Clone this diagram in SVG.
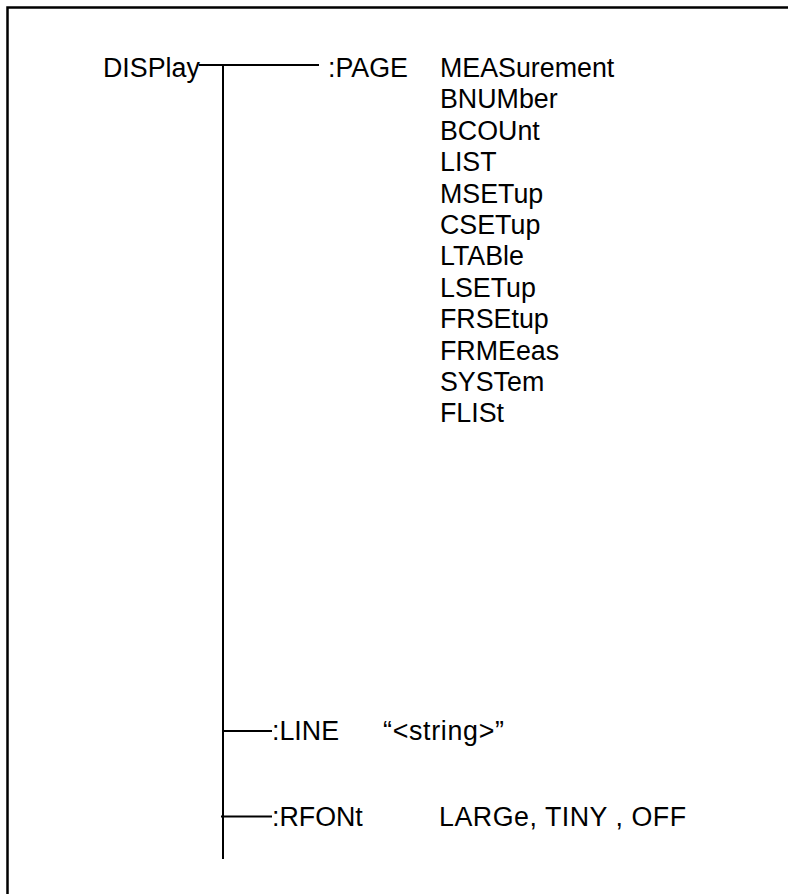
<svg xmlns="http://www.w3.org/2000/svg" width="788" height="894" viewBox="0 0 788 894">
<style>
text{font-family:"Liberation Sans",Arial,sans-serif;font-size:26.8px;fill:#000}
.ln{stroke:#000;stroke-width:2;fill:none}
.bd{stroke:#000;stroke-width:2.5;fill:none}
</style>
<rect width="788" height="894" fill="#fff"/>
<path class="bd" d="M7.5 894V7.5H788"/>
<g id="connectors">
<path class="ln" d="M199 65H319"/>
<path class="ln" d="M223 65V859"/>
<path class="ln" d="M223 731H272"/>
<path class="ln" d="M221 816.5H272"/>
</g>
<g id="display"><text x="103" y="77">DISPlay</text></g>
<g id="page">
<text x="328" y="77">:PAGE</text>
<text x="440" y="77">MEASurement</text>
<text x="440" y="108.4">BNUMber</text>
<text x="440" y="139.8">BCOUnt</text>
<text x="440" y="171.2">LIST</text>
<text x="440" y="202.6">MSETup</text>
<text x="440" y="234">CSETup</text>
<text x="440" y="265.4">LTABle</text>
<text x="440" y="296.8">LSETup</text>
<text x="440" y="328.2">FRSEtup</text>
<text x="440" y="359.6">FRMEeas</text>
<text x="440" y="391">SYSTem</text>
<text x="440" y="422.4">FLISt</text>
</g>
<g id="line">
<text x="272" y="740">:LINE</text>
<text x="383" y="740" textLength="121">“&lt;string&gt;”</text>
</g>
<g id="rfont">
<text x="272" y="826">:RFONt</text>
<text x="439" y="826" textLength="247">LARGe, TINY , OFF</text>
</g>
</svg>
